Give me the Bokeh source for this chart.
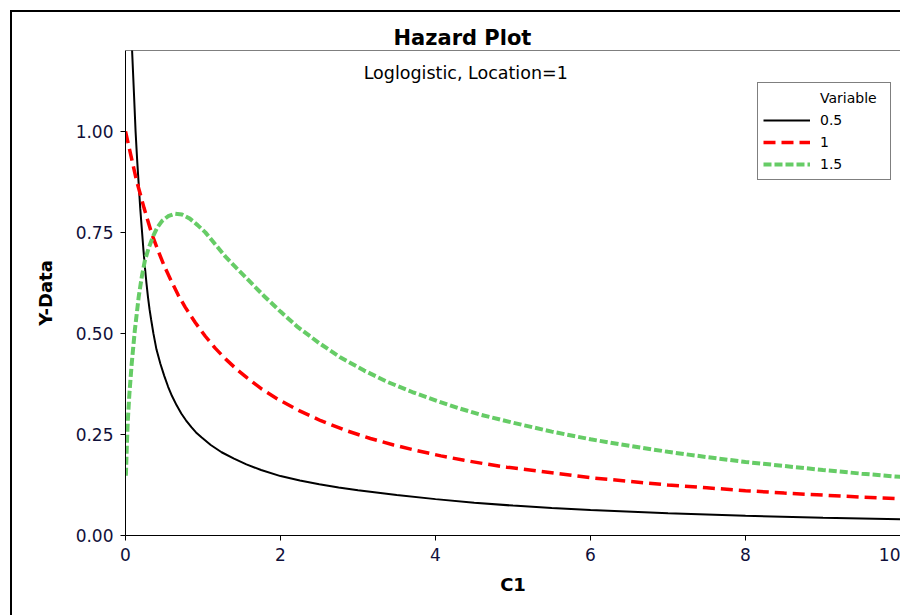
from bokeh.plotting import figure
from bokeh.models import (Label, Legend, LegendItem, FixedTicker, NumeralTickFormatter,
                          Span, Range1d, InlineStyleSheet)
from bokeh.embed import file_html
from bokeh.resources import INLINE

# ---- data ----
series_names = ["0.5", "1", "1.5"]

x_s05 = [0.06, 0.085, 0.11, 0.13, 0.15, 0.17, 0.19, 0.21, 0.23, 0.25, 0.27, 0.29, 0.31, 0.33,
         0.36, 0.40, 0.45, 0.50, 0.55, 0.60, 0.66, 0.72, 0.78, 0.85, 0.91, 0.98, 1.1,
         1.24, 1.4, 1.56, 1.75, 2.0, 2.25, 2.5, 2.75, 3.0, 3.5, 4.0, 4.5, 5.0, 5.5, 6.0,
         7.0, 8.0, 9.0, 10.0]
y_s05 = [1.40, 1.20, 1.09, 1.00, 0.93, 0.87, 0.81, 0.76, 0.71, 0.665, 0.625, 0.59, 0.56, 0.535,
         0.50, 0.46, 0.425, 0.395, 0.368, 0.345, 0.322, 0.302, 0.285, 0.268, 0.255, 0.243, 0.224,
         0.206, 0.19, 0.176, 0.162, 0.147, 0.136, 0.127, 0.119, 0.112, 0.100, 0.090, 0.081,
         0.074, 0.068, 0.063, 0.055, 0.049, 0.044, 0.040]

x_s1 = [0.0, 0.07, 0.14, 0.24, 0.34, 0.42, 0.50, 0.59, 0.68, 0.77, 0.9, 1.03, 1.16, 1.29,
        1.43, 1.57, 1.76, 1.96, 2.24, 2.52, 2.84, 3.16, 3.46, 3.76, 4.07, 4.37, 4.65, 4.92,
        5.5, 6.0, 6.5, 7.0, 7.5, 8.0, 8.5, 9.0, 9.5, 10.0]
y_s1 = [1.00, 0.94, 0.88, 0.81, 0.746, 0.705, 0.667, 0.63, 0.595, 0.565, 0.527, 0.493, 0.463,
        0.437, 0.412, 0.39, 0.362, 0.338, 0.309, 0.284, 0.26, 0.24, 0.224, 0.21, 0.197, 0.186,
        0.177, 0.169, 0.155, 0.143, 0.134, 0.125, 0.118, 0.111, 0.105, 0.100, 0.095, 0.091]

x_s15 = [0.005, 0.015, 0.03, 0.05, 0.08, 0.12, 0.17, 0.21, 0.25, 0.30, 0.36, 0.41, 0.47,
         0.55, 0.64, 0.73, 0.83, 0.93, 1.03, 1.16, 1.29, 1.43, 1.57, 1.78, 2.0, 2.22, 2.5,
         2.77, 3.08, 3.38, 3.7, 4.02, 4.3, 4.58, 5.0, 5.5, 6.0, 6.5, 7.0, 7.5, 8.0, 8.5,
         9.0, 9.5, 10.0]
y_s15 = [0.148, 0.21, 0.285, 0.35, 0.425, 0.507, 0.59, 0.64, 0.68, 0.712, 0.742, 0.762, 0.778,
         0.79, 0.796, 0.794, 0.784, 0.768, 0.75, 0.72, 0.69, 0.662, 0.635, 0.594, 0.554, 0.516,
         0.476, 0.441, 0.408, 0.38, 0.355, 0.333, 0.315, 0.299, 0.279, 0.257, 0.238, 0.222,
         0.207, 0.194, 0.182, 0.172, 0.162, 0.153, 0.145]

x_ticks = [0, 2, 4, 6, 8, 10]
y_ticks = [0.0, 0.25, 0.5, 0.75, 1.0]

FONT = "DejaVu Sans"

frame_css = InlineStyleSheet(css="""
:host::after, .bk-Canvas::after {
  content: "";
  position: absolute;
  left: 10px; top: 10px; right: 0px; bottom: 0px;
  border-left: 2px solid black;
  border-top: 2px solid black;
  box-sizing: border-box;
  pointer-events: none;
  z-index: 100;
}
""")

p = figure(width=900, height=615, output_backend="svg", toolbar_location=None,
           x_range=Range1d(0, 10), y_range=Range1d(0, 1.2),
           min_border_left=125, min_border_right=0, min_border_top=50, min_border_bottom=80,
           background_fill_color="white", border_fill_color="white",
           stylesheets=[frame_css])

p.xgrid.visible = False
p.ygrid.visible = False
p.outline_line_color = None

p.title.text = "Hazard Plot"
p.title.align = "left"
p.title.offset = 268
p.title.standoff = 2
p.title.text_font = FONT
p.title.text_font_size = "21px"
p.title.text_font_style = "bold"
p.title.text_color = "black"

for ax in (p.xaxis[0], p.yaxis[0]):
    ax.axis_line_color = "black"
    ax.axis_line_width = 1
    ax.major_tick_line_color = "black"
    ax.major_tick_in = 0
    ax.major_tick_out = 5
    ax.minor_tick_line_color = None
    ax.major_label_text_font = FONT
    ax.major_label_text_font_size = "17px"
    ax.major_label_text_color = "#10103a"
    ax.axis_label_text_font = FONT
    ax.axis_label_text_font_size = "18px"
    ax.axis_label_text_font_style = "bold"
    ax.axis_label_text_color = "black"

p.xaxis[0].ticker = FixedTicker(ticks=x_ticks)
p.yaxis[0].ticker = FixedTicker(ticks=y_ticks)
p.yaxis[0].formatter = NumeralTickFormatter(format="0.00")
p.xaxis[0].axis_label = "C1"
p.yaxis[0].axis_label = "Y-Data"
p.xaxis[0].major_label_standoff = 7
p.yaxis[0].major_label_standoff = 7
p.xaxis[0].axis_label_standoff = 10
p.yaxis[0].axis_label_standoff = 17

# frame top line
p.add_layout(Span(location=1.2, dimension="width", line_color="black", line_width=1))

r_head = p.line(x=[], y=[], line_alpha=0)
r05 = p.line(x_s05, y_s05, line_color="black", line_width=2)
r1 = p.line(x_s1, y_s1, line_color="#ff0000", line_width=3.5, line_dash="12 6")
r15 = p.line(x_s15, y_s15, line_color="#66cc66", line_width=4, line_dash="8 3")

legend = Legend(items=[LegendItem(label="Variable", renderers=[r_head]),
                       LegendItem(label=series_names[0], renderers=[r05]),
                       LegendItem(label=series_names[1], renderers=[r1]),
                       LegendItem(label=series_names[2], renderers=[r15])],
                location=(632, 355),
                label_text_font=FONT, label_text_font_size="14px", label_text_color="black",
                glyph_width=47, glyph_height=20, label_height=20, label_width=65,
                label_standoff=10, spacing=2, padding=5, margin=0,
                border_line_color="black", border_line_width=1,
                background_fill_color="white", background_fill_alpha=1)
p.add_layout(legend)

p.add_layout(Label(x=4.39, y=1.1455, text="Loglogistic, Location=1", text_align="center",
                   text_baseline="middle", text_font=FONT, text_font_size="17.5px",
                   text_color="black"))

open("out.html", "w").write(file_html(p, INLINE))
